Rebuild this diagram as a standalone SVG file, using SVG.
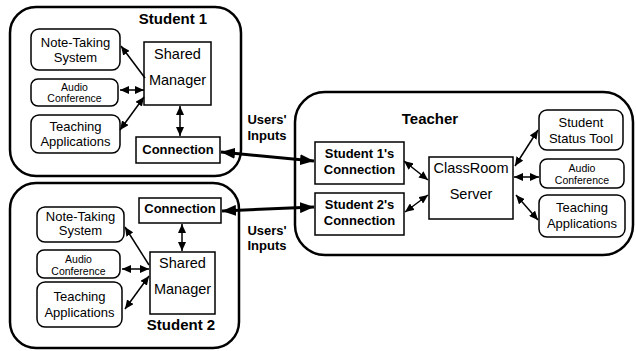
<svg xmlns="http://www.w3.org/2000/svg" width="636" height="351" viewBox="0 0 636 351">
<style>
text{font-family:"Liberation Sans",Arial,sans-serif;fill:#000;text-anchor:middle}
.title{font-size:15px;font-weight:bold}
.b{font-size:13px;font-weight:bold}
.n{font-size:13px}
.m{font-size:14.5px}
.s{font-size:10.5px}
.outer{fill:#fff;stroke:#000;stroke-width:2.5}
.rbox{fill:#fff;stroke:#000;stroke-width:1.5}
.box{fill:#fff;stroke:#000;stroke-width:1.5}
.thin{stroke:#000;stroke-width:1.5;fill:none;marker-end:url(#ah)}
.dbl{marker-start:url(#ah)}
.thick{stroke:#000;stroke-width:3;fill:none;marker-end:url(#ahb);marker-start:url(#ahb)}
</style>
<defs>
<marker id="ah" markerUnits="userSpaceOnUse" markerWidth="9" markerHeight="8" refX="9" refY="4" orient="auto-start-reverse"><path d="M0,0 L9,4 L0,8 z" fill="#000"/></marker>
<marker id="ahb" markerUnits="userSpaceOnUse" markerWidth="14" markerHeight="11" refX="14" refY="5.5" orient="auto-start-reverse"><path d="M0,0 L14,5.5 L0,11 z" fill="#000"/></marker>
</defs>
<rect width="636" height="351" fill="#fff"/>

<g id="student1">
<rect class="outer" x="10" y="7" width="231" height="169" rx="26"/>
<text class="title" x="173" y="24">Student 1</text>
</g>
<g id="s1-notetaking"><rect class="rbox" x="31" y="29" width="89" height="41" rx="8"/><text class="n" x="75.5" y="47">Note-Taking</text><text class="n" x="75.5" y="62">System</text></g>
<g id="s1-audio"><rect class="rbox" x="31" y="79" width="87" height="27" rx="7"/><text class="s" x="74.5" y="91">Audio</text><text class="s" x="74.5" y="102">Conference</text></g>
<g id="s1-teaching"><rect class="rbox" x="31" y="115" width="89" height="38" rx="8"/><text class="n" x="75.5" y="131">Teaching</text><text class="n" x="75.5" y="146">Applications</text></g>
<g id="s1-manager"><rect class="box" x="144" y="42" width="67" height="63"/><text class="m" x="177.5" y="59">Shared</text><text class="m" x="177.5" y="85">Manager</text></g>
<g id="s1-connection"><rect class="box" x="136" y="137" width="84" height="26"/><text class="b" x="178" y="154">Connection</text></g>

<g id="student2">
<rect class="outer" x="10" y="183" width="229" height="165" rx="26"/>
<text class="title" x="181" y="330">Student 2</text>
</g>
<g id="s2-notetaking"><rect class="rbox" x="37" y="207" width="87" height="35" rx="8"/><text class="n" x="80.5" y="221">Note-Taking</text><text class="n" x="80.5" y="235">System</text></g>
<g id="s2-audio"><rect class="rbox" x="37" y="250" width="83" height="28" rx="7"/><text class="s" x="78.5" y="263">Audio</text><text class="s" x="78.5" y="275">Conference</text></g>
<g id="s2-teaching"><rect class="rbox" x="37" y="282" width="85" height="45" rx="8"/><text class="n" x="79.5" y="301">Teaching</text><text class="n" x="79.5" y="317">Applications</text></g>
<g id="s2-manager"><rect class="box" x="150" y="252" width="65" height="62"/><text class="m" x="182.5" y="268">Shared</text><text class="m" x="182.5" y="294">Manager</text></g>
<g id="s2-connection"><rect class="box" x="139" y="198" width="82" height="25"/><text class="b" x="180" y="213">Connection</text></g>

<g id="teacher">
<rect class="outer" x="295" y="92" width="338" height="163" rx="30"/>
<text class="title" x="430" y="124">Teacher</text>
</g>
<g id="t-s1conn"><rect class="box" x="315" y="142" width="89" height="42"/><text class="b" x="359.5" y="158">Student 1's</text><text class="b" x="359.5" y="174">Connection</text></g>
<g id="t-s2conn"><rect class="box" x="315" y="193" width="89" height="42"/><text class="b" x="359.5" y="209">Student 2's</text><text class="b" x="359.5" y="225">Connection</text></g>
<g id="t-server"><rect class="box" x="429" y="157" width="84" height="62"/><text class="m" x="471" y="173">ClassRoom</text><text class="m" x="471" y="199">Server</text></g>
<g id="t-status"><rect class="rbox" x="539" y="110" width="84" height="40" rx="8"/><text class="n" x="581" y="127">Student</text><text class="n" x="581" y="143">Status Tool</text></g>
<g id="t-audio"><rect class="rbox" x="540" y="159" width="84" height="29" rx="7"/><text class="s" x="582" y="172">Audio</text><text class="s" x="582" y="184">Conference</text></g>
<g id="t-teaching"><rect class="rbox" x="539" y="195" width="86" height="42" rx="8"/><text class="n" x="582" y="212">Teaching</text><text class="n" x="582" y="228">Applications</text></g>

<g id="labels">
<text class="b" x="267" y="124">Users'</text>
<text class="b" x="267" y="140">Inputs</text>
<text class="b" x="267" y="235">Users'</text>
<text class="b" x="267" y="250">Inputs</text>
</g>

<g id="connectors">
<line class="thin" x1="145" y1="78" x2="121" y2="46"/>
<line class="thin dbl" x1="120" y1="90" x2="144" y2="90"/>
<line class="thin dbl" x1="120" y1="130" x2="144" y2="97"/>
<line class="thin dbl" x1="180" y1="106" x2="180" y2="136"/>
<line class="thin" x1="149" y1="265" x2="125" y2="227"/>
<line class="thin dbl" x1="122" y1="269" x2="149" y2="269"/>
<line class="thin dbl" x1="125" y1="309" x2="149" y2="276"/>
<line class="thin dbl" x1="182" y1="224" x2="182" y2="251"/>
<line class="thin dbl" x1="404" y1="161" x2="428" y2="180"/>
<line class="thin dbl" x1="405" y1="212" x2="428" y2="195"/>
<line class="thin dbl" x1="515" y1="166" x2="538" y2="130"/>
<line class="thin dbl" x1="514" y1="177" x2="539" y2="177"/>
<line class="thin dbl" x1="516" y1="195" x2="538" y2="220"/>
<line class="thick" x1="221" y1="152" x2="314" y2="161"/>
<line class="thick" x1="222" y1="211" x2="314" y2="207"/>
</g>
</svg>
